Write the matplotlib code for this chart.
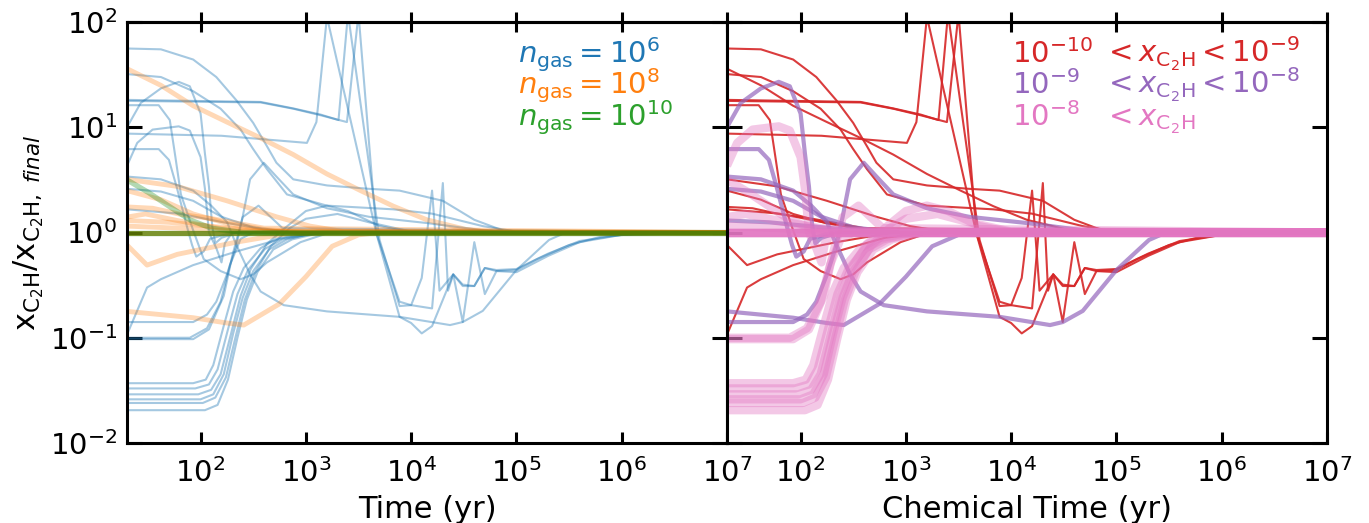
import matplotlib
matplotlib.use("Agg")
import matplotlib.pyplot as plt
from matplotlib.ticker import LogLocator, NullLocator

# ---------------- data: each curve = time (yr), x/x_final, density class, abundance class
# density classes: 'n6', 'n8', 'n10' ; abundance classes: 'lo' (1e-10..1e-9), 'mid' (1e-9..1e-8), 'hi' (>1e-8)
c_arc1_t = [20, 42, 85, 141, 219, 316, 427, 525, 759, 1585, 3981, 7762, 2e4, 3.98e4, 7.94e4, 1.26e5, 1e7]
c_arc1_y = [56, 55, 44, 30, 18, 11, 6.6, 4.6, 3.2, 2.8, 2.6, 2.5, 2.0, 1.32, 1.02, 1.0, 1.0]
c_arc2_t = [20, 42, 85, 155, 240, 316, 427, 661, 1585, 6761, 1.58e4, 4.79e4, 1e5, 2e5, 1e7]
c_arc2_y = [32, 30, 22, 15, 9.5, 6.2, 4.0, 2.3, 1.8, 1.66, 1.51, 1.15, 1.02, 1.0, 1.0]
c_b1_t = [20, 372, 759, 1380, 2042, 2512, 5012, 7762, 1e4, 1.58e4, 2e4, 2.24e4, 2.51e4, 3.09e4,
          3.98e4, 5.01e4, 6.46e4, 1e5, 2e5, 3.98e5, 1e6, 1e7]
c_b1_y = [18.2, 17.4, 15.1, 13.2, 11.7, 120, 0.85, 0.2, 0.204, 0.19, 2.95, 0.28, 0.40, 0.141,
          0.81, 0.26, 0.43, 0.42, 0.60, 0.81, 0.95, 1.0]
c_b2_t = [20, 372, 759, 1380, 2455, 3162, 4677, 7762, 1e4, 1.26e4, 1.58e4, 2.51e4, 3.09e4, 3.98e4,
          5.01e4, 6.46e4, 1e5, 2e5, 3.98e5, 1e6, 1e7]
c_b2_y = [17.8, 17.2, 15.0, 13.0, 11.2, 120, 0.98, 0.158, 0.138, 0.11, 0.129, 0.40, 0.31, 0.31,
          0.46, 0.44, 0.45, 0.63, 0.83, 0.95, 1.0]
c_a_t = [20, 158, 1023, 1259, 1585, 4677, 7762, 1e4, 1.26e4, 1.58e4, 1.86e4, 2.51e4, 3.09e4, 3.98e4,
         5.01e4, 6.46e4, 1e5, 1.58e5, 3.16e5, 6.3e5, 2e6, 1e7]
c_a_y = [8.7, 8.3, 7.1, 11.2, 112, 0.98, 0.22, 0.204, 0.37, 2.5, 0.28, 0.40, 0.32, 0.31,
         0.46, 0.43, 0.44, 0.56, 0.76, 0.91, 1.0, 1.0]
c_d_t = [20, 40, 51, 58, 65, 85, 107, 155, 240, 316, 427, 891, 1585, 3162, 1e7]
c_d_y = [16.2, 16.2, 11.7, 5.0, 2.3, 1.05, 0.56, 0.43, 0.36, 0.40, 0.52, 0.81, 0.98, 1.0, 1.0]
c_e_t = [20, 40, 50, 59, 69, 74, 83, 91, 107, 123, 200, 1e7]
c_e_y = [6.2, 6.2, 4.9, 2.75, 1.51, 1.15, 0.76, 0.59, 0.66, 0.87, 1.0, 1.0]
c_f_t = [20, 25, 35, 62, 79, 100, 110, 120, 141, 158, 170, 200, 1e7]
c_f_y = [4.3, 7.1, 9.5, 10.2, 9.3, 5.2, 2.6, 1.0, 0.71, 0.52, 0.79, 1.0, 1.0]
c_g_t = [20, 27, 42, 62, 79, 100, 110, 120, 129, 138, 158, 224, 1e7]
c_g_y = [10, 17, 23.4, 27, 24.5, 13.5, 5.6, 2.75, 1.15, 0.79, 0.89, 1.0, 1.0]
c_h_t = [20, 85, 115, 141, 178, 219, 251, 295, 398, 525, 759, 1585, 3981, 1.41e4, 4.79e4, 1e5, 1e7]
c_h_y = [0.141, 0.141, 0.166, 0.22, 0.40, 0.76, 1.41, 3.2, 4.6, 3.4, 2.3, 1.7, 1.41, 1.23, 1.05, 1.0, 1.0]
c_j_t = [20, 42, 85, 126, 178, 219, 295, 372, 617, 1585, 7762, 2.34e4, 3.09e4, 4.79e4, 1e5, 2.04e5, 2.95e5, 1e7]
c_j_y = [3.4, 3.2, 2.5, 1.8, 1.26, 0.76, 0.40, 0.275, 0.204, 0.178, 0.158, 0.132, 0.141, 0.18, 0.44, 0.85, 1.0, 1.0]
c_k_t = [20, 31, 42, 85, 219, 631, 1585, 1e7]
c_k_y = [0.107, 0.30, 0.36, 0.49, 0.66, 0.89, 1.0, 1.0]
c_l1_t = [20, 79, 115, 155, 190, 240, 316, 1e7]
c_l1_y = [0.1, 0.1, 0.123, 0.22, 0.49, 0.87, 1.0, 1.0]
c_l2_t = [20, 85, 120, 166, 200, 251, 355, 600, 1e7]
c_l2_y = [0.097, 0.097, 0.12, 0.25, 0.6, 1.4, 1.8, 1.1, 1.0]
c_p1_t = [20, 85, 112, 132, 166, 204, 257, 372, 525, 1096, 1e7]
c_p1_y = [0.037, 0.037, 0.040, 0.055, 0.13, 0.275, 0.46, 0.71, 0.87, 1.0, 1.0]
c_p2_t = [20, 89, 120, 145, 182, 224, 282, 410, 600, 1259, 1e7]
c_p2_y = [0.033, 0.033, 0.036, 0.05, 0.12, 0.26, 0.44, 0.70, 0.86, 1.0, 1.0]
c_p3_t = [20, 95, 126, 155, 195, 240, 300, 427, 631, 1000, 1585, 2512, 5012, 1e4, 1e7]
c_p3_y = [0.029, 0.029, 0.032, 0.045, 0.11, 0.25, 0.45, 0.78, 1.1, 1.6, 1.8, 1.6, 1.15, 1.0, 1.0]
c_p4_t = [20, 100, 132, 166, 204, 251, 316, 447, 661, 1259, 1e7]
c_p4_y = [0.026, 0.026, 0.029, 0.045, 0.11, 0.24, 0.43, 0.69, 0.86, 1.0, 1.0]
c_p5_t = [20, 105, 138, 174, 214, 263, 331, 468, 700, 1000, 1995, 3981, 1e4, 1e7]
c_p5_y = [0.024, 0.024, 0.027, 0.042, 0.1, 0.23, 0.42, 0.75, 1.1, 1.35, 1.5, 1.25, 1.02, 1.0]
c_p6_t = [20, 110, 145, 182, 224, 275, 347, 490, 740, 1413, 1e7]
c_p6_y = [0.0205, 0.0205, 0.023, 0.04, 0.1, 0.23, 0.42, 0.69, 0.86, 1.0, 1.0]
c_q2_t = [20, 42, 85, 158, 316, 794, 1e7]
c_q2_y = [2.6, 2.45, 2.0, 1.41, 1.12, 1.0, 1.0]
c_q3_t = [20, 63, 158, 398, 1000, 1e7]
c_q3_y = [1.66, 1.51, 1.26, 1.07, 1.0, 1.0]
c_o1_t = [20, 42, 85, 178, 372, 759, 1585, 3311, 6761, 1.41e4, 3.31e4, 6.3e4, 1e7]
c_o1_y = [36, 25, 16, 11.2, 7.9, 5.5, 3.6, 2.5, 1.78, 1.32, 1.07, 1.0, 1.0]
c_o2_t = [20, 85, 178, 257, 562, 1000, 1778, 3162, 5012, 1e7]
c_o2_y = [0.178, 0.155, 0.138, 0.132, 0.21, 0.38, 0.74, 0.95, 1.0, 1.0]
c_o3_t = [20, 59, 178, 525, 1096, 2291, 1e7]
c_o3_y = [3.2, 2.75, 2.0, 1.41, 1.15, 1.02, 1.0]
c_o4_t = [20, 31, 60, 219, 759, 1e7]
c_o4_y = [0.76, 0.49, 0.62, 0.81, 1.0, 1.0]
c_o5_t = [20, 42, 85, 178, 400, 1000, 1e7]
c_o5_y = [2.5, 2.05, 1.5, 1.22, 1.07, 1.0, 1.0]
c_o6_t = [20, 30, 60, 150, 400, 1e7]
c_o6_y = [1.4, 1.5, 1.3, 1.1, 1.02, 1.0]
c_o7_t = [20, 50, 120, 300, 800, 1e7]
c_o7_y = [1.3, 1.25, 1.15, 1.06, 1.0, 1.0]
c_o8_t = [20, 60, 200, 1e7]
c_o8_y = [1.15, 1.1, 1.03, 1.0]
c_o10_t = [20, 35, 62, 130, 400, 1e7]
c_o10_y = [1.75, 1.7, 1.5, 1.35, 1.1, 1.0]
c_g1_t = [20, 32, 50, 79, 126, 251, 1e7]
c_g1_y = [3.16, 2.4, 1.78, 1.32, 1.10, 1.0, 1.0]
c_flat_t = [20, 1e7]
c_flat_y = [1.0, 1.0]

curves = [
    (c_arc1_t, c_arc1_y, 'n6', 'lo'), (c_arc2_t, c_arc2_y, 'n6', 'lo'),
    (c_b1_t, c_b1_y, 'n6', 'lo'), (c_b2_t, c_b2_y, 'n6', 'lo'), (c_a_t, c_a_y, 'n6', 'lo'),
    (c_d_t, c_d_y, 'n6', 'lo'), (c_k_t, c_k_y, 'n6', 'lo'), (c_q3_t, c_q3_y, 'n6', 'lo'),
    (c_e_t, c_e_y, 'n6', 'mid'), (c_g_t, c_g_y, 'n6', 'mid'), (c_h_t, c_h_y, 'n6', 'mid'),
    (c_j_t, c_j_y, 'n6', 'mid'), (c_q2_t, c_q2_y, 'n6', 'mid'),
    (c_f_t, c_f_y, 'n6', 'hi'), (c_l1_t, c_l1_y, 'n6', 'hi'), (c_l2_t, c_l2_y, 'n6', 'hi'),
    (c_p1_t, c_p1_y, 'n6', 'hi'), (c_p2_t, c_p2_y, 'n6', 'hi'), (c_p3_t, c_p3_y, 'n6', 'hi'),
    (c_p4_t, c_p4_y, 'n6', 'hi'), (c_p5_t, c_p5_y, 'n6', 'hi'), (c_p6_t, c_p6_y, 'n6', 'hi'),
    (c_o1_t, c_o1_y, 'n8', 'lo'), (c_o3_t, c_o3_y, 'n8', 'lo'), (c_o4_t, c_o4_y, 'n8', 'lo'),
    (c_o5_t, c_o5_y, 'n8', 'lo'), (c_o10_t, c_o10_y, 'n8', 'lo'),
    (c_o2_t, c_o2_y, 'n8', 'mid'), (c_o7_t, c_o7_y, 'n8', 'mid'),
    (c_o6_t, c_o6_y, 'n8', 'hi'), (c_o8_t, c_o8_y, 'n8', 'hi'),
    (c_flat_t, c_flat_y, 'n8', 'hi'), (c_flat_t, c_flat_y, 'n8', 'hi'), (c_flat_t, c_flat_y, 'n8', 'hi'),
    (c_g1_t, c_g1_y, 'n10', 'hi'),
    (c_flat_t, c_flat_y, 'n10', 'hi'), (c_flat_t, c_flat_y, 'n10', 'hi'),
]

dens_order = ['n6', 'n8', 'n10']
dens_style = {'n6': dict(color='tab:blue', lw=1.5, alpha=0.4),
              'n8': dict(color='tab:orange', lw=3.5, alpha=0.3),
              'n10': dict(color='green', lw=3.8, alpha=0.3)}
abun_order = ['lo', 'mid', 'hi']
abun_style = {'lo': dict(color='tab:red', lw=1.5, alpha=0.9),
              'mid': dict(color='tab:purple', lw=3.0, alpha=0.7),
              'hi': dict(color='tab:pink', lw=6.0, alpha=0.4)}

dens_labels = [r'$n_{\rm gas} = 10^{6}$', r'$n_{\rm gas} = 10^{8}$', r'$n_{\rm gas} = 10^{10}$']
dens_colors = ['tab:blue', 'tab:orange', 'tab:green']
abun_left = [r'$10^{-10}$', r'$10^{-9}$', r'$10^{-8}$']
abun_right = [r'$< x_{\rm C_2H} < 10^{-9}$', r'$< x_{\rm C_2H} < 10^{-8}$', r'$< x_{\rm C_2H}$']
abun_colors = ['tab:red', 'tab:purple', 'tab:pink']

# ---------------- figure
W, H = 1369, 523
fig = plt.figure(figsize=(W / 100, H / 100), dpi=100)
axL = fig.add_axes([127 / W, 1 - 443 / H, 600 / W, 421 / H])
axR = fig.add_axes([727 / W, 1 - 443 / H, 600 / W, 421 / H])

for cls in dens_order:
    for t, y, d, a in curves:
        if d == cls:
            axL.plot(t, y, solid_capstyle='butt', **dens_style[cls])
for cls in abun_order:
    for t, y, d, a in curves:
        if a == cls:
            axR.plot(t, y, solid_capstyle='butt', **abun_style[cls])

FS = 21
for ax in (axL, axR):
    ax.set_xscale('log')
    ax.set_yscale('log')
    ax.set_xlim(20, 1e7)
    ax.set_ylim(1e-2, 1e2)
    ax.xaxis.set_major_locator(LogLocator(base=10, numticks=20))
    ax.yaxis.set_major_locator(LogLocator(base=10, numticks=20))
    ax.xaxis.set_minor_locator(NullLocator())
    ax.yaxis.set_minor_locator(NullLocator())
    for sp in ax.spines.values():
        sp.set_linewidth(2.2)
    ax.tick_params(axis='x', which='major', direction='in', length=8, width=2.2,
                   bottom=True, top=False, labelsize=FS, pad=11)
    ax.tick_params(axis='y', which='major', direction='in', length=10.5, width=2.2,
                   left=True, right=True, labelsize=FS, pad=7)
    sec = ax.secondary_xaxis('top')
    sec.xaxis.set_major_locator(LogLocator(base=10, numticks=20))
    sec.xaxis.set_minor_locator(NullLocator())
    sec.tick_params(axis='x', which='major', direction='inout', length=15, width=2.2,
                    labeltop=False)
    sec.spines['top'].set_linewidth(2.2)

axR.tick_params(axis='y', labelleft=False)

axL.set_xlabel('Time (yr)', fontsize=22, labelpad=5)
axR.set_xlabel('Chemical Time (yr)', fontsize=22, labelpad=5)
axL.set_ylabel(r'x$_{\mathrm{C_2H}}$/x$_{\mathrm{C_2H},\ \mathit{final}}$', fontsize=22)
axL.yaxis.set_label_coords(-0.135, 0.5)

base_y = [0.903, 0.829, 0.753]
for lab, col, yb in zip(dens_labels, dens_colors, base_y):
    axL.text(0.652, yb, lab, color=col, fontsize=FS, transform=axL.transAxes,
             ha='left', va='baseline')
for l1, l2, col, yb in zip(abun_left, abun_right, abun_colors, base_y):
    axR.text(0.475, yb, l1, color=col, fontsize=FS, transform=axR.transAxes,
             ha='left', va='baseline')
    axR.text(0.627, yb, l2, color=col, fontsize=FS, transform=axR.transAxes,
             ha='left', va='baseline')

fig.savefig('out.png', dpi=100)
